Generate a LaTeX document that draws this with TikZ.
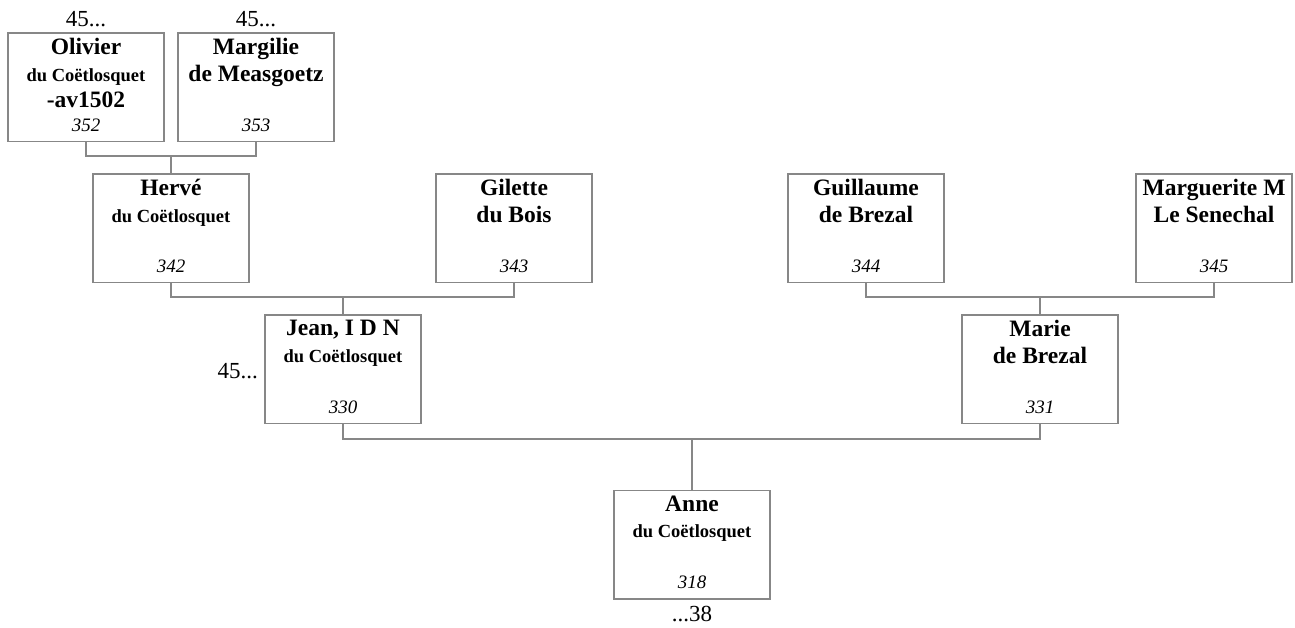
\documentclass[tikz,border=0pt]{standalone}
\usepackage{fontspec}
\setmainfont{Liberation Serif}
\usetikzlibrary{positioning}
\definecolor{boxgray}{RGB}{135,135,135}
\newcommand{\famline}[1]{{\fontsize{18.5}{22.5}\selectfont #1}}

\begin{document}
\begin{tikzpicture}[x=1pt,y=-1pt,
    person/.style={draw=boxgray,line width=1.5pt,minimum width=156pt,minimum height=108.5pt,inner sep=0pt},
    who/.style={anchor=north,yshift=-6pt,align=center,inner sep=0pt,font=\bfseries\fontsize{23.5}{26.5}\selectfont,
      execute at begin node={\rule{0pt}{18pt}}},
    num/.style={anchor=base,yshift=11pt,inner sep=0pt,font=\itshape\fontsize{19}{20}\selectfont},
    more/.style={inner sep=0pt,font=\fontsize{23}{24}\selectfont},
    link/.style={draw=boxgray,line width=1.5pt}]
      \useasboundingbox (0,0) rectangle (1295,627);
      % grandparents' parents
      \node[person] (olivier) at (86,87) {};
      \node[who] (olivier-t) at (olivier.north) {Olivier\\\famline{du Coëtlosquet}\\-av1502};
      \node[num] (olivier-n) at (olivier.south) {352};
      \node[person] (margilie) at (256,87) {};
      \node[who] (margilie-t) at (margilie.north) {Margilie\\de Measgoetz};
      \node[num] (margilie-n) at (margilie.south) {353};
      \node[more,anchor=base] (olivier-up) at (86,26) {45...};
      \node[more,anchor=base] (margilie-up) at (256,26) {45...};
      % grandparents
      \node[person] (herve) at (171,228) {};
      \node[who] (herve-t) at (herve.north) {Hervé\\\famline{du Coëtlosquet}};
      \node[num] (herve-n) at (herve.south) {342};
      \node[person] (gilette) at (514,228) {};
      \node[who] (gilette-t) at (gilette.north) {Gilette\\du Bois};
      \node[num] (gilette-n) at (gilette.south) {343};
      \node[person] (guillaume) at (866,228) {};
      \node[who] (guillaume-t) at (guillaume.north) {Guillaume\\de Brezal};
      \node[num] (guillaume-n) at (guillaume.south) {344};
      \node[person] (marguerite) at (1214,228) {};
      \node[who] (marguerite-t) at (marguerite.north) {Marguerite M\\Le Senechal};
      \node[num] (marguerite-n) at (marguerite.south) {345};
      % parents
      \node[person] (jean) at (343,369) {};
      \node[who] (jean-t) at (jean.north) {Jean, I D N\\\famline{du Coëtlosquet}};
      \node[num] (jean-n) at (jean.south) {330};
      \node[more,anchor=base east] (jean-side) at (258,378) {45...};
      \node[person] (marie) at (1040,369) {};
      \node[who] (marie-t) at (marie.north) {Marie\\de Brezal};
      \node[num] (marie-n) at (marie.south) {331};
      % child
      \node[person] (anne) at (692,544.5) {};
      \node[who] (anne-t) at (anne.north) {Anne\\\famline{du Coëtlosquet}};
      \node[num] (anne-n) at (anne.south) {318};
      \node[more,anchor=base] (anne-down) at (692,621) {...38};
      % links
      \coordinate (p1) at (171,156);
      \coordinate (p2) at (343,297);
      \coordinate (p3) at (1040,297);
      \coordinate (p4) at (692,439);
      \draw[link] (olivier.south) |- (p1) -| (margilie.south);
      \draw[link] (p1) -- (herve.north);
      \draw[link] (herve.south) |- (p2) -| (gilette.south);
      \draw[link] (p2) -- (jean.north);
      \draw[link] (guillaume.south) |- (p3) -| (marguerite.south);
      \draw[link] (p3) -- (marie.north);
      \draw[link] (jean.south) |- (p4) -| (marie.south);
      \draw[link] (p4) -- (anne.north);
    \end{tikzpicture}
\end{document}
